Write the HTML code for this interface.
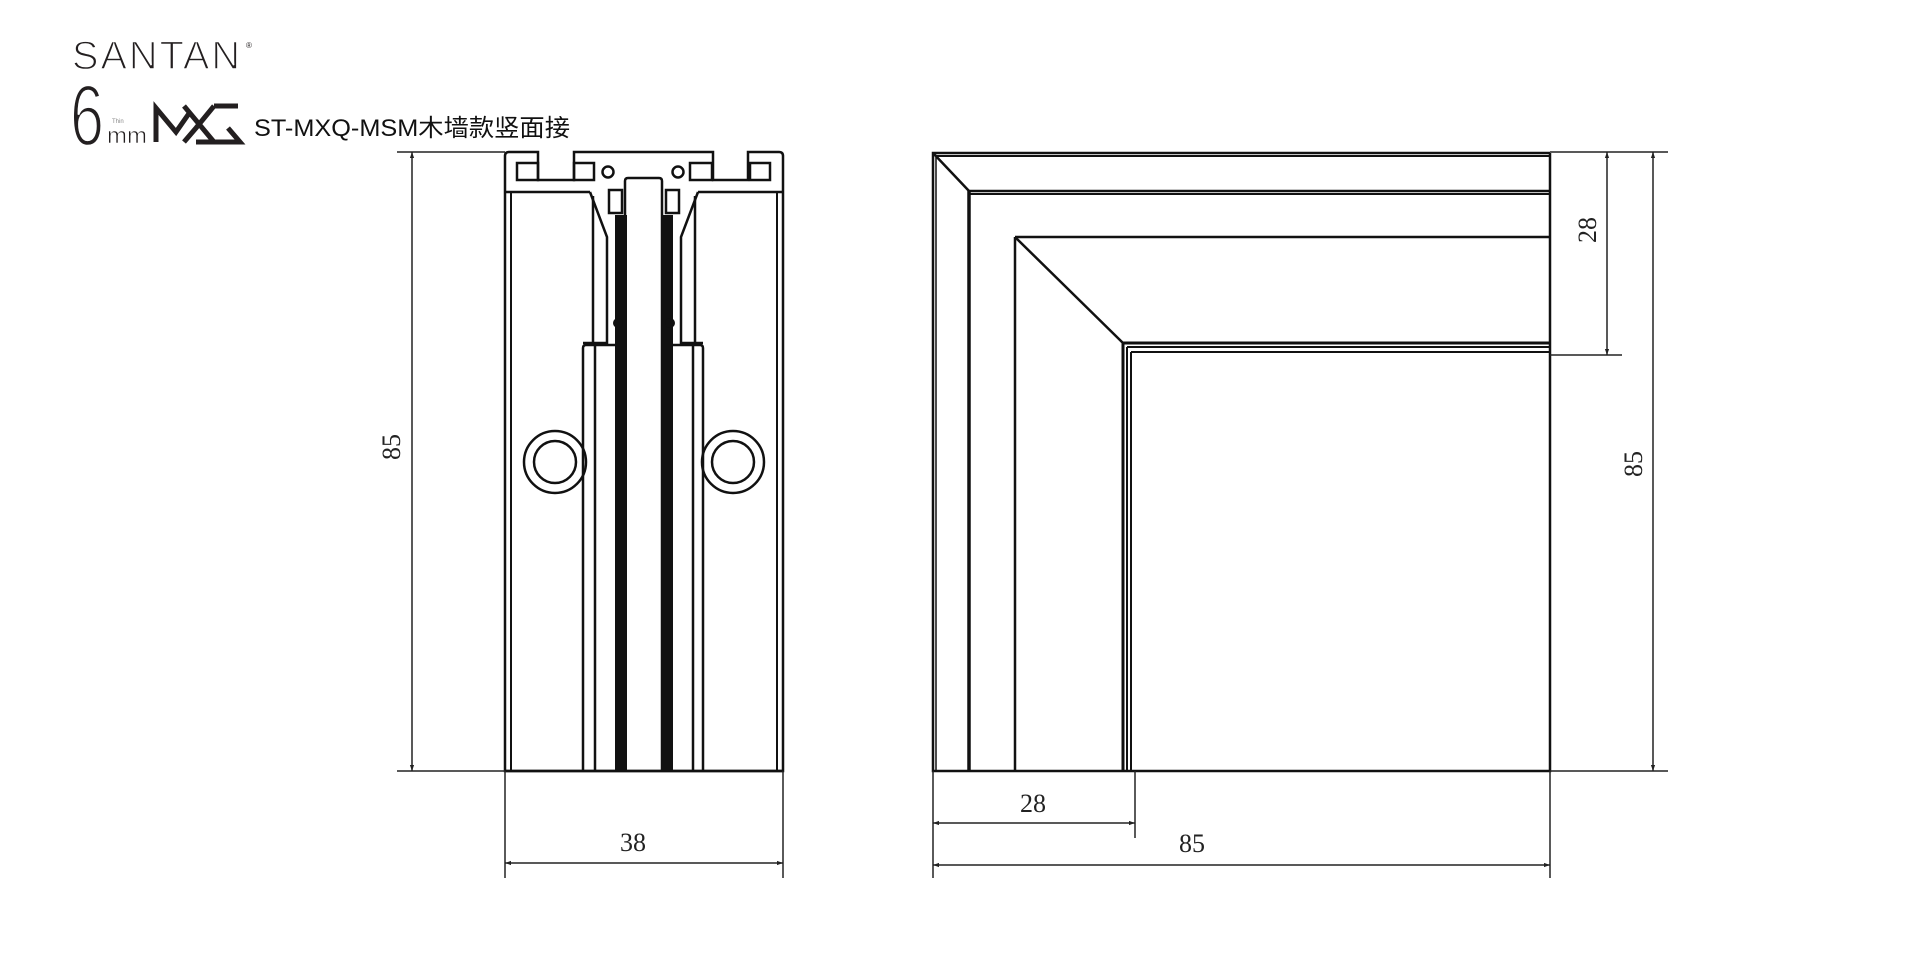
<!DOCTYPE html>
<html><head><meta charset="utf-8"><style>
html,body{margin:0;padding:0;background:#fff;}
svg{display:block}
</style></head><body>
<svg width="1920" height="960" viewBox="0 0 1920 960" xmlns="http://www.w3.org/2000/svg">
<defs>
<marker id="a" viewBox="0 0 10 10" refX="10" refY="5" markerWidth="9" markerHeight="6" orient="auto-start-reverse" markerUnits="userSpaceOnUse"><path d="M0,1.5 L10,5 L0,8.5 z" fill="#222"/></marker>
</defs>
<!-- Header -->
<text x="72" y="69" font-family="Liberation Sans, sans-serif" font-size="40" fill="#231f20" stroke="#fff" stroke-width="1.4" letter-spacing="2" textLength="170" lengthAdjust="spacingAndGlyphs">SANTAN</text>
<text x="246" y="48" font-family="Liberation Sans, sans-serif" font-size="8" fill="#231f20">®</text>
<text x="70" y="145" font-family="Liberation Sans, sans-serif" font-size="86" fill="#231f20" stroke="#fff" stroke-width="2.5" textLength="34" lengthAdjust="spacingAndGlyphs">6</text>
<text x="112" y="123" font-family="Liberation Sans, sans-serif" font-size="6" fill="#888">Thin</text>
<text x="107" y="143" font-family="Liberation Sans, sans-serif" font-size="22" fill="#231f20" stroke="#fff" stroke-width="0.6" textLength="40" lengthAdjust="spacingAndGlyphs">mm</text>
<path d="M156,142 V108 L176,132 L190,112 M184,106 L214,142 M214,106 L196,128 L184,142 M214,106 H238 M196,142 H240 L228,128" fill="none" stroke="#231f20" stroke-width="5"/>
<text x="254" y="136" font-family="Liberation Sans, 'Noto Sans CJK SC', sans-serif" font-size="24" fill="#111" textLength="316" lengthAdjust="spacingAndGlyphs">ST-MXQ-MSM木墙款竖面接</text>

<g fill="none" stroke="#111" stroke-width="2.5">
<!-- LEFT DRAWING -->
<path d="M505,771 V156 Q505,152 509,152 H538 V180 H574 V152 H713 V180 H748 V152 H779 Q783,152 783,156 V771 Z"/>
<line x1="505" y1="192" x2="590" y2="192"/>
<line x1="783" y1="192" x2="698" y2="192"/>
<line x1="511" y1="192" x2="511" y2="771" stroke-width="2"/>
<line x1="777" y1="192" x2="777" y2="771" stroke-width="2"/>
<rect x="517" y="163" width="21" height="17"/>
<rect x="574" y="163" width="20" height="17"/>
<rect x="690" y="163" width="22" height="17"/>
<rect x="750" y="163" width="20" height="17"/>
<circle cx="608" cy="172" r="5.5"/>
<circle cx="678" cy="172" r="5.5"/>
<path d="M590,192 L607,237 V343 H583"/>
<path d="M698,192 L681,237 V343 H703"/>
<line x1="593" y1="196" x2="593" y2="343"/>
<line x1="695" y1="196" x2="695" y2="343"/>
<path d="M583,771 V348 Q583,345 586,345 H617"/>
<path d="M703,771 V348 Q703,345 700,345 H670"/>
<line x1="595" y1="345" x2="595" y2="771"/>
<line x1="693" y1="345" x2="693" y2="771"/>
<path d="M625,771 V181 Q625,178 628,178 H659 Q662,178 662,181 V771"/>
<rect x="609" y="190" width="13" height="23"/>
<rect x="666" y="190" width="13" height="23"/>
<circle cx="555" cy="462" r="31"/>
<circle cx="555" cy="462" r="21"/>
<circle cx="733" cy="462" r="31"/>
<circle cx="733" cy="462" r="21"/>
<line x1="505" y1="771" x2="783" y2="771"/>
</g>
<rect x="615" y="215" width="12" height="556" fill="#111"/>
<rect x="661" y="215" width="12" height="556" fill="#111"/>
<circle cx="618" cy="323" r="5" fill="#111"/>
<circle cx="670" cy="323" r="5" fill="#111"/>

<g fill="none" stroke="#111" stroke-width="2.5">
<!-- RIGHT DRAWING -->
<path d="M1550,153 H933 V771 H1550 V153"/>
<line x1="936" y1="156" x2="1550" y2="156" stroke-width="2"/>
<line x1="936" y1="156" x2="936" y2="771" stroke-width="1.5"/>
<line x1="933" y1="153" x2="969" y2="191"/>
<line x1="969" y1="191" x2="1550" y2="191"/>
<line x1="969" y1="194" x2="1550" y2="194" stroke-width="2"/>
<line x1="969" y1="191" x2="969" y2="771" stroke-width="3.5"/>
<line x1="1015" y1="237" x2="1550" y2="237"/>
<line x1="1015" y1="237" x2="1015" y2="771"/>
<line x1="1015" y1="237" x2="1123" y2="343"/>
<line x1="1123" y1="343" x2="1550" y2="343" stroke-width="3"/>
<line x1="1127" y1="347" x2="1550" y2="347" stroke-width="2"/>
<line x1="1131" y1="352" x2="1550" y2="352" stroke-width="2"/>
<line x1="1123" y1="343" x2="1123" y2="771" stroke-width="3"/>
<line x1="1127" y1="347" x2="1127" y2="771" stroke-width="2"/>
<line x1="1131" y1="352" x2="1131" y2="771" stroke-width="2"/>
</g>

<g stroke="#222" stroke-width="1.5" fill="none">
<line x1="397" y1="152" x2="505" y2="152"/>
<line x1="397" y1="771" x2="505" y2="771"/>
<line x1="412" y1="152" x2="412" y2="771" marker-start="url(#a)" marker-end="url(#a)"/>
<line x1="505" y1="771" x2="505" y2="878"/>
<line x1="783" y1="771" x2="783" y2="878"/>
<line x1="505" y1="863" x2="783" y2="863" marker-start="url(#a)" marker-end="url(#a)"/>
<line x1="1550" y1="152" x2="1668" y2="152"/>
<line x1="1550" y1="355" x2="1622" y2="355"/>
<line x1="1550" y1="771" x2="1668" y2="771"/>
<line x1="1607" y1="152" x2="1607" y2="355" marker-start="url(#a)" marker-end="url(#a)"/>
<line x1="1653" y1="152" x2="1653" y2="771" marker-start="url(#a)" marker-end="url(#a)"/>
<line x1="933" y1="771" x2="933" y2="878"/>
<line x1="1135" y1="771" x2="1135" y2="838"/>
<line x1="1550" y1="771" x2="1550" y2="878"/>
<line x1="933" y1="823" x2="1135" y2="823" marker-start="url(#a)" marker-end="url(#a)"/>
<line x1="933" y1="865" x2="1550" y2="865" marker-start="url(#a)" marker-end="url(#a)"/>
</g>
<g font-family="Liberation Serif, serif" font-size="26" fill="#222" text-anchor="middle">
<text x="633" y="851">38</text>
<text x="1033" y="812">28</text>
<text x="1192" y="852">85</text>
<text transform="translate(400,447) rotate(-90)">85</text>
<text transform="translate(1596,230) rotate(-90)">28</text>
<text transform="translate(1642,464) rotate(-90)">85</text>
</g>
</svg>
</body></html>
